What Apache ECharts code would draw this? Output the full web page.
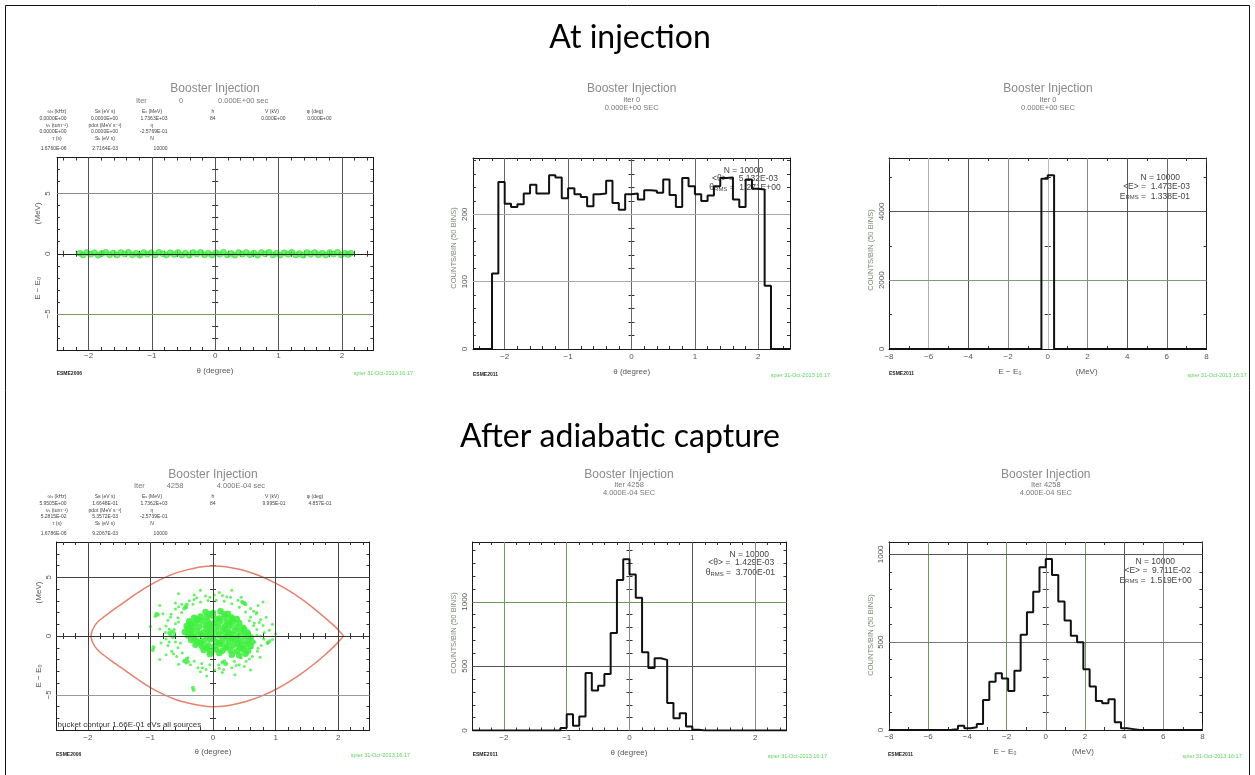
<!DOCTYPE html>
<html>
<head>
<meta charset="utf-8">
<script src="https://cdn.jsdelivr.net/npm/echarts@6/dist/echarts.min.js"></script>
<style>
html,body{margin:0;padding:0;background:#fff}
#c{width:1255px;height:775px}
</style>
</head>
<body>
<div id="c"></div>
<script>
const FONT = '"Liberation Sans", "DejaVu Sans", sans-serif';

// ---------- axis ranges and tick labels ----------
const THETA_RANGE = [-2.5, 2.5];     // degree
const ENERGY_RANGE = [-8, 8];        // MeV
const PHASE_E_RANGE = [-8, 8];       // MeV
const thetaTicks = [-2, -1, 0, 1, 2];
const energyTicks = [-8, -6, -4, -2, 0, 2, 4, 6, 8];
const phaseETicks = [-5, 0, 5];
const injThetaCountTicks = [0, 100, 200];
const injEnergyCountTicks = [0, 2000, 4000];
const capCountTicks = [0, 500, 1000];

// ---------- histograms: 50 bins across the axis range ----------
const injThetaCounts = [
  0, 0, 0, 112, 248, 216, 211, 215, 231, 244,
  231, 231, 258, 255, 224, 239, 230, 226, 212, 230,
  231, 250, 217, 207, 230, 231, 222, 236, 235, 232,
  252, 229, 211, 254, 242, 230, 220, 228, 242, 254,
  255, 222, 211, 252, 238, 237, 94, 0, 0, 0
];
const injEnergyCounts = [
  0, 0, 0, 0, 0, 0, 0, 0, 0, 0,
  0, 0, 0, 0, 0, 0, 0, 0, 0, 0,
  0, 0, 0, 0, 4952, 5048, 0, 0, 0, 0,
  0, 0, 0, 0, 0, 0, 0, 0, 0, 0,
  0, 0, 0, 0, 0, 0, 0, 0, 0, 0
];
const capThetaCounts = [
  0, 0, 0, 0, 0, 0, 0, 0, 0, 0,
  0, 0, 0, 0, 19, 127, 36, 109, 446, 311,
  347, 440, 757, 1169, 1332, 1212, 1031, 609, 485, 562,
  549, 213, 96, 135, 31, 5, 0, 0, 0, 0,
  0, 0, 0, 0, 0, 0, 0, 0, 0, 0
];
const capEnergyCounts = [
  0, 0, 0, 0, 0, 0, 0, 0, 0, 2,
  5, 24, 10, 15, 34, 171, 274, 323, 293, 222,
  338, 542, 671, 787, 927, 973, 882, 732, 623, 536,
  500, 346, 247, 165, 152, 175, 44, 10, 5, 0,
  0, 0, 0, 0, 0, 0, 0, 0, 0, 0
];

// ---------- longitudinal phase space at injection (theta, dE) ----------
const injPhaseSpace = [
  [-2.14,0.05],[-2.09,-0.1],[-2.03,0.11],[-1.97,-0.04],[-1.91,0.09],[-1.85,-0.12],[-1.79,0.02],[-1.73,0.12],
  [-1.67,-0.08],[-1.61,0.06],[-1.55,-0.11],[-1.49,0.1],[-1.43,-0.02],[-1.37,0.12],[-1.31,-0.09],[-1.25,0.04],
  [-1.19,-0.12],[-1.13,0.1],[-1.07,-0.05],[-1.01,0.08],[-0.95,-0.1],[-0.89,0.12],[-0.83,0.0],[-0.77,-0.11],
  [-0.71,0.09],[-0.65,-0.06],[-0.59,0.11],[-0.53,-0.1],[-0.47,0.05],[-0.41,-0.12],[-0.35,0.1],[-0.29,-0.03],
  [-0.23,0.12],[-0.17,-0.09],[-0.11,0.05],[-0.05,-0.11],[0.01,0.09],[0.07,-0.05],[0.13,0.12],[0.19,-0.1],
  [0.25,0.03],[0.31,-0.12],[0.37,0.1],[0.43,-0.04],[0.49,0.11],[0.55,-0.09],[0.61,0.06],[0.67,-0.12],
  [0.73,0.1],[0.79,-0.02],[0.85,0.12],[0.91,-0.1],[0.97,0.04],[1.03,-0.11],[1.09,0.09],[1.15,-0.05],
  [1.21,0.12],[1.27,-0.1],[1.33,0.02],[1.39,-0.12],[1.45,0.1],[1.51,-0.05],[1.57,0.11],[1.63,-0.09],
  [1.69,0.05],[1.75,-0.11],[1.81,0.1],[1.87,-0.03],[1.93,0.12],[1.99,-0.1],[2.05,0.05],[2.1,-0.07],[2.14,0.05]
];

// ---------- phase space after capture (theta, dE) ----------
const capCore = [
  [-0.12,2.05],[0.0,1.95],[0.12,2.1],[0.24,1.9],
  [-0.3,1.55],[-0.2,1.65],[-0.1,1.6],[0.0,1.7],[0.1,1.5],[0.2,1.62],[0.3,1.58],[0.38,1.45],
  [-0.38,1.25],[-0.28,1.15],[-0.18,1.3],[-0.08,1.2],[0.02,1.1],[0.12,1.28],[0.22,1.18],[0.32,1.22],[0.42,1.1],
  [-0.42,0.85],[-0.32,0.75],[-0.22,0.8],[-0.12,0.9],[-0.02,0.7],[0.08,0.82],[0.18,0.78],[0.28,0.88],[0.38,0.75],[0.48,0.7],
  [-0.45,0.35],[-0.35,0.45],[-0.25,0.4],[-0.15,0.3],[-0.05,0.5],[0.05,0.38],[0.15,0.42],[0.25,0.35],[0.35,0.45],[0.45,0.4],[0.55,0.3],
  [-0.4,0.05],[-0.3,-0.05],[-0.2,0.1],[-0.1,0.0],[0.0,-0.1],[0.1,0.05],[0.2,-0.05],[0.3,0.08],[0.4,-0.02],[0.5,0.0],[0.6,-0.1],
  [-0.35,-0.35],[-0.25,-0.45],[-0.15,-0.4],[-0.05,-0.3],[0.05,-0.5],[0.15,-0.38],[0.25,-0.42],[0.35,-0.35],[0.45,-0.45],[0.55,-0.4],[0.62,-0.5],
  [-0.28,-0.75],[-0.18,-0.85],[-0.08,-0.8],[0.02,-0.9],[0.12,-0.7],[0.22,-0.82],[0.32,-0.78],[0.42,-0.88],[0.52,-0.75],[0.6,-0.85],
  [-0.15,-1.2],[-0.05,-1.3],[0.05,-1.15],[0.15,-1.25],[0.28,-1.2],[0.38,-1.3],[0.48,-1.15],[0.56,-1.25],
  [-0.05,-1.55],[0.3,-1.6],[0.42,-1.65],[0.52,-1.5],
  [-0.05,1.85],[0.18,1.85],[-0.25,1.4],[0.05,1.4],[0.3,1.4],[-0.35,1.0],[-0.05,1.0],[0.25,1.0],
  [-0.4,0.6],[-0.1,0.6],[0.2,0.6],[0.5,0.55],[-0.35,0.2],[-0.05,0.2],[0.25,0.2],[0.55,0.15],
  [-0.3,-0.2],[0.0,-0.2],[0.3,-0.2],[-0.2,-0.6],[0.1,-0.6],[0.4,-0.6],[-0.1,-1.0],[0.2,-1.0],[0.45,-1.0],[0.1,-1.45]
];
const capRing = [
  [0.82,0.3],[0.8,0.9],[0.76,1.4],[0.69,1.9],[0.6,2.35],[0.5,2.75],[0.4,3.05],[0.28,3.3],[0.15,3.45],
  [0.02,3.5],[-0.12,3.4],[-0.26,3.25],[-0.38,3.0],[-0.5,2.7],[-0.6,2.3],[-0.67,1.85],[-0.72,1.35],
  [-0.75,0.85],[-0.76,0.3],[-0.75,-0.25],[-0.72,-0.8],[-0.66,-1.3],[-0.58,-1.75],[-0.47,-2.15],
  [-0.36,-2.45],[-0.24,-2.7],[-0.11,-2.85],[0.03,-2.9],[0.17,-2.85],[0.3,-2.7],[0.42,-2.45],
  [0.53,-2.15],[0.63,-1.75],[0.71,-1.3],[0.77,-0.8],[0.81,-0.25],
  [0.7,0.55],[0.66,1.1],[0.6,1.6],[0.52,2.05],[0.42,2.45],[0.3,2.75],[0.18,2.95],[0.05,3.05],
  [-0.08,3.02],[-0.2,2.9],[-0.32,2.7],[-0.42,2.4],[-0.5,2.0],[-0.56,1.55],[-0.6,1.05],[-0.62,0.55],
  [-0.62,0.0],[-0.6,-0.5],[-0.56,-1.0],[-0.49,-1.45],[-0.4,-1.85],[-0.3,-2.15],[-0.18,-2.35],
  [-0.05,-2.45],[0.09,-2.45],[0.22,-2.35],[0.34,-2.15],[0.45,-1.85],[0.55,-1.45],[0.62,-1.0],
  [0.67,-0.5],[0.7,0.05],
  [0.9,0.5],[0.85,1.6],[0.72,2.6],[0.45,3.3],[0.1,3.7],[-0.3,3.5],[-0.6,2.8],[-0.8,1.9],[-0.85,0.6],
  [-0.83,-0.6],[-0.75,-1.6],[-0.55,-2.4],[-0.2,-3.05],[0.15,-3.1],[0.5,-2.6],[0.75,-1.8],[0.88,-0.6],[0.95,-0.3],
  [0.76,0.0],[0.74,1.15],[0.65,2.1],[0.46,2.9],[0.22,3.35],[-0.05,3.3],[-0.3,3.1],[-0.55,2.5],[-0.68,1.6],
  [-0.7,0.6],[-0.7,-0.5],[-0.63,-1.5],[-0.43,-2.3],[-0.17,-2.7],[0.1,-2.75],[0.37,-2.5],[0.58,-1.95],[0.72,-1.05],
  [-0.55,3.6],[0.3,3.9],[0.7,2.0],[1.0,0.2],[-1.0,0.8],[-0.85,-2.0],[0.35,-3.3],[-0.1,-3.4],[0.6,-2.9],
  [0.95,1.0],[-0.2,3.9],[0.65,0.9],[-0.55,1.2],[0.62,-0.2],[-0.52,-0.6],[0.58,1.3],[-0.85,2.6],[0.8,2.9]
];
const capClumps = [
  [-0.9,1.9],[-0.92,1.7],[-0.88,1.8],[-0.66,0.4],[-0.68,0.1],[-0.64,-0.1],[-0.7,0.25],[-0.62,0.25],
  [-0.95,-0.95],[-0.96,-1.2],[-0.42,-1.95],[-0.45,-2.1],[-0.4,-2.2],[0.15,-2.25],[0.2,-2.4],[0.18,-2.15],
  [0.5,2.8],[0.47,2.9],[0.52,2.7],[0.9,-0.45],[0.87,-0.6],[-0.32,-4.4],[-0.31,-4.6],
  [-0.44,2.5],[-0.46,2.35],[-0.42,2.65]
];

// ---------- RF bucket separatrix ----------
const bucketTheta = [-1.95,-1.93,-1.88,-1.8,-1.6,-1.4,-1.2,-1.0,-0.8,-0.6,-0.4,-0.2,0,0.2,0.4,0.6,0.8,1.0,1.2,1.4,1.6,1.8,1.95,2.03,2.08];
const bucketUpper = [0,0.45,0.95,1.4,2.2,2.95,3.7,4.35,4.9,5.35,5.65,5.88,5.95,5.9,5.7,5.4,5.0,4.5,3.9,3.2,2.4,1.5,0.8,0.35,0];
const bucketLower = [0,-0.45,-0.95,-1.4,-2.2,-2.95,-3.7,-4.4,-4.95,-5.4,-5.7,-5.92,-6.02,-5.95,-5.75,-5.45,-5.05,-4.55,-3.95,-3.25,-2.45,-1.55,-0.8,-0.35,0];

// ---------- run parameter tables ----------
const paramLabels = [
  ['ω{s|s} (kHz)', 'S{s|B} (eV s)', 'E{s|s} (MeV)', 'h', 'V (kV)', 'φ (deg)'],
  ['ν{s|s} (turn⁻¹)', 'pdot (MeV s⁻¹)', 'η'],
  ['τ (s)', 'S{s|b} (eV s)', 'N']
];
const injParams = [
  ['0.0000E+00', '0.0000E+00', '1.7363E+03', '84', '0.000E+00', '0.000E+00'],
  ['0.0000E+00', '0.0000E+00', '-2.5769E-01'],
  ['1.6760E-06', '2.7164E-03', '10000']
];
const capParams = [
  ['5.9505E+00', '1.6648E-01', '1.7362E+03', '84', '9.995E-01', '4.857E-01'],
  ['5.2815E-02', '5.3572E-03', '-2.5739E-01'],
  ['1.6786E-06', '9.2067E-03', '10000']
];

// ---------- helpers ----------
function stepTicks(from, to, step, skip) {
  const out = [];
  for (let i = Math.ceil(from / step - 1e-9); i * step <= to + 1e-9; i++) {
    const v = +(i * step).toFixed(4);
    if (!skip.includes(v)) out.push(v);
  }
  return out;
}
const minus = v => String(v).replace('-', '\u2212');
const GREEN = '#6f9a5f';

const panels = [
  { // phase space, injection
    grid: {left: 57, top: 157.5, width: 316.5, height: 192.5},
    x: THETA_RANGE, y: PHASE_E_RANGE,
    xMajor: thetaTicks, xMinor: stepTicks(-2.4, 2.4, 0.2, thetaTicks),
    yMajor: phaseETicks, yMinor: stepTicks(-7, 7, 1, phaseETicks),
    xMargin: 2, yMargin: 5, xZero: true,
    vLines: [[-2,'#555'],[-1,'#555'],[0,'#555'],[1,'#555'],[2,'#555']],
    hLines: [[5,'#8a8a8a'],[0,'#222'],[-5,'#7d9a6c']]
  },
  { // theta histogram, injection
    grid: {left: 473, top: 158, width: 317, height: 191},
    x: THETA_RANGE, y: [0, Math.max(...injThetaCounts) * 1.1],
    xMajor: thetaTicks, xMinor: stepTicks(-2.4, 2.4, 0.2, thetaTicks),
    yMajor: injThetaCountTicks, yMinor: stepTicks(20, 280, 20, injThetaCountTicks),
    xMargin: 3.5, yMargin: 4, xZero: false,
    vLines: [[-2,'#666'],[-1,'#666'],[0,'#666'],[1,'#666'],[2,'#666']],
    hLines: [[100,'#aaa'],[200,'#aaa']]
  },
  { // energy histogram, injection
    grid: {left: 889, top: 158, width: 317.5, height: 191},
    x: ENERGY_RANGE, y: [0, Math.max(...injEnergyCounts) * 1.1],
    xMajor: energyTicks, xMinor: stepTicks(-7, 7, 1, energyTicks),
    yMajor: injEnergyCountTicks, yMinor: [1000, 3000, 5000],
    xMargin: 3.5, yMargin: 3, xZero: false,
    vLines: [[-6,'#b0b0b0'],[-4,'#555'],[-2,'#888'],[0,'#bbb'],[2,'#888'],[4,'#555'],[6,'#666']],
    hLines: [[2000,'#7fa070'],[4000,'#555']]
  },
  { // phase space, after capture
    grid: {left: 56.5, top: 542, width: 313, height: 188},
    x: THETA_RANGE, y: PHASE_E_RANGE,
    xMajor: thetaTicks, xMinor: stepTicks(-2.4, 2.4, 0.2, thetaTicks),
    yMajor: phaseETicks, yMinor: stepTicks(-7, 7, 1, phaseETicks),
    xMargin: 3.5, yMargin: 4, xZero: true,
    vLines: [[-2,'#444'],[-1,'#444'],[0,'#444'],[1,'#444'],[2,'#444']],
    hLines: [[5,'#444'],[0,'#333'],[-5,'#999']]
  },
  { // theta histogram, after capture
    grid: {left: 472.5, top: 542, width: 314, height: 188.5},
    x: THETA_RANGE, y: [0, Math.max(...capThetaCounts) * 1.1],
    xMajor: thetaTicks, xMinor: stepTicks(-2.4, 2.4, 0.2, thetaTicks),
    yMajor: capCountTicks, yMinor: stepTicks(100, 1400, 100, capCountTicks),
    xMargin: 3, yMargin: 3.5, xZero: false,
    vLines: [[-2,GREEN],[-1,GREEN],[0,'#888'],[1,'#555'],[2,'#888']],
    hLines: [[500,'#555'],[1000,GREEN]]
  },
  { // energy histogram, after capture
    grid: {left: 889, top: 542, width: 313.5, height: 188},
    x: ENERGY_RANGE, y: [0, Math.max(...capEnergyCounts) * 1.1],
    xMajor: energyTicks, xMinor: stepTicks(-7, 7, 1, energyTicks),
    yMajor: capCountTicks, yMinor: stepTicks(100, 1000, 100, capCountTicks),
    xMargin: 2.5, yMargin: 4, xZero: false,
    vLines: [[-6,GREEN],[-4,'#555'],[-2,GREEN],[0,'#888'],[2,GREEN],[4,'#555'],[6,'#888']],
    hLines: [[500,'#777'],[1000,'#555']]
  }
];

const grids = [], xAxes = [], yAxes = [], series = [];
const axisBase = gi => ({gridIndex: gi, type: 'value', silent: true, splitLine: {show: false}, axisPointer: {show: false}});
const tickStyle = {color: '#333', width: 1};

// frame axis: drawn on a border of the plot box
function frameAxis(gi, range, pos, ticks, len, line, label) {
  return Object.assign(axisBase(gi), {
    min: range[0], max: range[1], position: pos,
    axisLine: {show: line, onZero: false, lineStyle: {color: '#1a1a1a', width: 1}},
    axisTick: {show: true, inside: true, length: len, customValues: ticks, lineStyle: tickStyle},
    axisLabel: label || {show: false}
  });
}
// zero axis: tick marks along the zero line inside the plot
function zeroAxis(gi, range, pos, ticks, inside) {
  return Object.assign(axisBase(gi), {
    min: range[0], max: range[1], position: pos,
    axisLine: {show: false, onZero: true},
    axisTick: {show: true, inside, length: 3, customValues: ticks, lineStyle: tickStyle},
    axisLabel: {show: false}
  });
}

const firstX = [], firstY = [];
panels.forEach((p, gi) => {
  grids.push(Object.assign({outerBoundsMode: 'none', containLabel: false}, p.grid));
  firstX.push(xAxes.length);
  firstY.push(yAxes.length);
  const xLabel = {show: true, customValues: p.xMajor, margin: p.xMargin, fontSize: 8, color: '#555', fontFamily: FONT, formatter: minus};
  const yLabel = {show: true, customValues: p.yMajor, rotate: 90, margin: p.yMargin, fontSize: 8, color: '#555', fontFamily: FONT, formatter: minus};
  xAxes.push(frameAxis(gi, p.x, 'bottom', p.xMajor, 5, true, xLabel));
  xAxes.push(frameAxis(gi, p.x, 'bottom', p.xMinor, 3, false));
  xAxes.push(frameAxis(gi, p.x, 'top', p.xMajor, 5, true));
  xAxes.push(frameAxis(gi, p.x, 'top', p.xMinor, 3, false));
  yAxes.push(frameAxis(gi, p.y, 'left', p.yMajor, 5, true, yLabel));
  yAxes.push(frameAxis(gi, p.y, 'left', p.yMinor, 3, false));
  yAxes.push(frameAxis(gi, p.y, 'right', p.yMajor, 5, true));
  yAxes.push(frameAxis(gi, p.y, 'right', p.yMinor, 3, false));
  const yZeroTicks = p.yMajor.concat(p.yMinor).filter(v => v !== 0);
  yAxes.push(zeroAxis(gi, p.y, 'left', yZeroTicks, true));
  yAxes.push(zeroAxis(gi, p.y, 'left', yZeroTicks, false));
  if (p.xZero) {
    const xZeroTicks = p.xMajor.concat(p.xMinor).filter(v => v !== 0);
    xAxes.push(zeroAxis(gi, p.x, 'bottom', xZeroTicks, true));
    xAxes.push(zeroAxis(gi, p.x, 'bottom', xZeroTicks, false));
  }
  // reference grid lines
  series.push({
    type: 'line', xAxisIndex: firstX[gi], yAxisIndex: firstY[gi], data: [], silent: true, z: 1, animation: false,
    markLine: {
      silent: true, symbol: ['none', 'none'], animation: false, label: {show: false}, emphasis: {disabled: true},
      data: p.vLines.map(([v, c]) => ({xAxis: v, lineStyle: {color: c, width: 1, type: 'solid'}}))
        .concat(p.hLines.map(([v, c]) => ({yAxis: v, lineStyle: {color: c, width: 1, type: 'solid'}})))
    }
  });
});

function histogram(counts, range, gi) {
  const w = (range[1] - range[0]) / counts.length;
  const pts = counts.map((c, k) => [range[0] + k * w, c]);
  pts.push([range[1], counts[counts.length - 1]]);
  return {
    type: 'line', xAxisIndex: firstX[gi], yAxisIndex: firstY[gi], step: 'end', data: pts,
    symbol: 'none', silent: true, z: 5, animation: false,
    lineStyle: {color: '#111', width: 2}
  };
}
series.push(histogram(injThetaCounts, THETA_RANGE, 1));
series.push(histogram(injEnergyCounts, ENERGY_RANGE, 2));
series.push(histogram(capThetaCounts, THETA_RANGE, 4));
series.push(histogram(capEnergyCounts, ENERGY_RANGE, 5));

const scatter = (data, gi, size, extra) => Object.assign({
  type: 'scatter', xAxisIndex: firstX[gi], yAxisIndex: firstY[gi], data, symbolSize: size,
  silent: true, z: 3, animation: false, itemStyle: {color: '#3ef03e'}
}, extra || {});
series.push(scatter(injPhaseSpace, 0, 6, {itemStyle: {color: '#44f044', borderColor: '#2bd42b', borderWidth: 0.6}}));
series.push(scatter(capRing, 3, 3));
series.push(scatter(capClumps, 3, 4));
series.push(scatter(capCore, 3, 6.5, {itemStyle: {color: '#3ef03e', opacity: 0.9}}));

series.push({
  type: 'line', xAxisIndex: firstX[3], yAxisIndex: firstY[3], silent: true, z: 4, animation: false,
  symbol: 'none', smooth: 0.25,
  data: bucketTheta.map((t, i) => [t, bucketUpper[i]])
    .concat(bucketTheta.map((t, i) => [t, bucketLower[i]]).reverse()),
  lineStyle: {color: '#e8806c', width: 1.5}
});

// ---------- text ----------
const G = [];
function txt(x, y, text, o) {
  o = o || {};
  const base = {fontSize: o.size || 8, fontFamily: o.family || FONT, fill: o.color || '#555'};
  G.push({
    type: 'text', x, y, rotation: o.rot || 0, silent: true, z: o.z || 0,
    style: Object.assign({}, base, {
      text, fontWeight: o.weight || 'normal',
      align: o.align || 'center', verticalAlign: 'middle',
      rich: {s: {fontSize: (o.size || 8) * 0.7, fontFamily: FONT, fill: o.color || '#555', verticalAlign: 'bottom'}}
    })
  });
}
const ROT = Math.PI / 2;

txt(630, 38, 'At injection', {size: 32, color: '#000', family: 'Lato, "Open Sans", sans-serif'});
txt(620, 437, 'After adiabatic capture', {size: 32, color: '#000', family: 'Lato, "Open Sans", sans-serif'});

// parameter tables
const PARAM_LABEL_X = [57, 105, 152, 213, 272, 315];
const PARAM_VALUE_R = [66.5, 118, 167.5, 215.5, 285.5, 331.5];
const PARAM_ROW_DY = [0, 7.4, 14, 20.4, 27.2, 37];
function paramBlock(baseY, values) {
  paramLabels.forEach((row, r) => row.forEach((lab, c) =>
    txt(PARAM_LABEL_X[c], baseY + PARAM_ROW_DY[2 * r], lab, {size: 5, color: '#444'})));
  values.forEach((row, r) => row.forEach((val, c) =>
    txt(PARAM_VALUE_R[c], baseY + PARAM_ROW_DY[2 * r + 1], val, {size: 5, color: '#444', align: 'right'})));
}

// panel headers
const HEAD = {size: 12, color: '#8a8a8a'};
const SUBHEAD = {size: 7.5, color: '#777'};
txt(215, 89, 'Booster Injection', HEAD);
txt(136, 101, 'Iter', Object.assign({align: 'left'}, SUBHEAD));
txt(181, 101, '0', SUBHEAD);
txt(218, 101, '0.000E+00 sec', Object.assign({align: 'left'}, SUBHEAD));
paramBlock(111.3, injParams);

txt(631.7, 88.7, 'Booster Injection', HEAD);
txt(631.7, 100.3, 'Iter 0', SUBHEAD);
txt(631.7, 108, '0.000E+00 SEC', SUBHEAD);

txt(1048, 88.7, 'Booster Injection', HEAD);
txt(1048, 100.3, 'Iter 0', SUBHEAD);
txt(1048, 108, '0.000E+00 SEC', SUBHEAD);

txt(213, 474.3, 'Booster Injection', HEAD);
txt(134, 486.3, 'Iter', Object.assign({align: 'left'}, SUBHEAD));
txt(166.7, 486.3, '4258', Object.assign({align: 'left'}, SUBHEAD));
txt(216.7, 486.3, '4.000E-04 sec', Object.assign({align: 'left'}, SUBHEAD));
paramBlock(496.3, capParams);

txt(629, 474.3, 'Booster Injection', HEAD);
txt(629, 485.3, 'Iter 4258', SUBHEAD);
txt(629, 493, '4.000E-04 SEC', SUBHEAD);

txt(1045.8, 474.3, 'Booster Injection', HEAD);
txt(1045.8, 484.7, 'Iter 4258', SUBHEAD);
txt(1045.8, 492.7, '4.000E-04 SEC', SUBHEAD);

// axis titles
const AX = {size: 8, color: '#555'};
const YN = {size: 7.5, color: '#7f8a78', rot: ROT};
txt(215, 371, 'θ (degree)', AX);
txt(38, 213.3, '(MeV)', Object.assign({rot: ROT}, AX));
txt(38, 288.3, 'E − E₀', Object.assign({rot: ROT}, AX));
txt(631.7, 371.7, 'θ (degree)', AX);
txt(454, 248, 'COUNTS/BIN (50 BINS)', YN);
txt(1010, 371.7, 'E − E₀', AX);
txt(1086.7, 371.7, '(MeV)', AX);
txt(870.7, 250, 'COUNTS/BIN (50 BINS)', YN);
txt(213, 752, 'θ (degree)', AX);
txt(38.3, 592.5, '(MeV)', Object.assign({rot: ROT}, AX));
txt(38.3, 676, 'E − E₀', Object.assign({rot: ROT}, AX));
txt(629, 752.3, 'θ (degree)', AX);
txt(454, 633, 'COUNTS/BIN (50 BINS)', YN);
txt(1005, 751.7, 'E − E₀', AX);
txt(1083, 751.7, '(MeV)', AX);
txt(870.7, 635, 'COUNTS/BIN (50 BINS)', YN);

// distribution statistics
const ST = {size: 8.5, color: '#444', align: 'right'};
txt(763.3, 170.3, 'N = 10000', ST);
txt(778, 178.7, '<θ> =  5.132E-03', ST);
txt(780.7, 188, 'θ{s|RMS} =  1.271E+00', ST);
txt(1180, 177.3, 'N = 10000', ST);
txt(1190, 186.3, '<E> =  1.473E-03', ST);
txt(1190, 196.3, 'E{s|RMS} =  1.338E-01', ST);
txt(769, 554.7, 'N = 10000', ST);
txt(774.3, 563, '<θ> =  1.429E-03', ST);
txt(775, 572.7, 'θ{s|RMS} =  3.700E-01', ST);
txt(1175, 561.3, 'N = 10000', ST);
txt(1190.7, 571, '<E> =  9.711E-02', ST);
txt(1191.7, 580.3, 'E{s|RMS} =  1.519E+00', ST);

txt(57.5, 725, 'bucket contour 1.66E-01 eVs all sources', {size: 8, color: '#333', align: 'left', z: 10});

// footers
const FT = {size: 5, color: '#222', weight: 'bold', align: 'left'};
const DT = {size: 5.5, color: '#5cd65c', align: 'right'};
[[56.7, 373.3, 'ESME2006'], [473, 374.3, 'ESME2011'], [889, 374, 'ESME2011'],
 [56, 755, 'ESME2006'], [472.7, 755, 'ESME2011'], [888, 755, 'ESME2011']]
  .forEach(([x, y, s]) => txt(x, y, s, FT));
[[413, 373.3], [830, 375], [1246.7, 375], [410, 755], [827, 756], [1241.7, 756]]
  .forEach(([x, y]) => txt(x, y, 'spier 31-Oct-2013 16:17', DT));

// slide frame
G.push({type: 'rect', silent: true, z: 0, shape: {x: 5.5, y: 5.5, width: 1244, height: 800},
  style: {fill: 'none', stroke: '#111', lineWidth: 1}});

const chart = echarts.init(document.getElementById('c'), null, {renderer: 'canvas'});
chart.setOption({
  backgroundColor: '#fff',
  animation: false,
  grid: grids,
  xAxis: xAxes,
  yAxis: yAxes,
  series,
  graphic: {elements: G}
});
</script>
</body>
</html>
